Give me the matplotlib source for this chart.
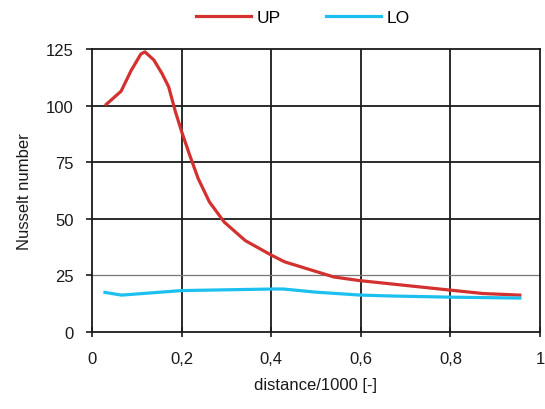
import numpy as np
import matplotlib.pyplot as plt
from matplotlib.ticker import FuncFormatter

plt.rcParams['font.family'] = ['Liberation Sans', 'DejaVu Sans']

# Nusselt number along the channel, upper and lower wall
x_up = [0.032, 0.065, 0.087, 0.109, 0.118, 0.138, 0.156, 0.171, 0.186,
        0.20, 0.218, 0.237, 0.262, 0.295, 0.342, 0.40, 0.43, 0.54, 0.598,
        0.80, 0.873, 0.955]
nu_up = [100.6, 106.4, 115.4, 122.8, 123.8, 120.2, 114.3, 108.4, 97.5,
         88.6, 78.2, 67.8, 57.5, 48.6, 40.4, 34, 31, 24.3, 22.7,
         18.5, 17, 16.3]

x_lo = [0.029, 0.066, 0.2, 0.405, 0.427, 0.50, 0.60, 0.67, 0.80, 0.955]
nu_lo = [17.5, 16.3, 18.3, 19, 19, 17.6, 16.3, 15.9, 15.4, 15]

xticks = [0, 0.2, 0.4, 0.6, 0.8, 1]
yticks = [0, 25, 50, 75, 100, 125]

fig = plt.figure(figsize=(5.45, 4.10), dpi=100)
ax = fig.add_axes([0.1688, 0.1878, 0.822, 0.690])

ax.plot(x_up, nu_up, color='#d2312f', lw=2.3, label='UP', zorder=3)
ax.plot(x_lo, nu_lo, color='#1cc0ee', lw=2.3, label='LO', zorder=3)

ax.set_xlim(0, 1)
ax.set_ylim(0, 125)
ax.set_xticks(xticks)
ax.set_yticks(yticks)
ax.xaxis.set_major_formatter(FuncFormatter(
    lambda v, p: ('%g' % v).replace('.', ',')))

# grid: black except the thin grey line at 25
for xv in xticks[1:-1]:
    ax.axvline(xv, color='#1a1a1a', lw=1.3, zorder=1)
for yv in yticks[1:-1]:
    if yv == 25:
        ax.axhline(yv, color='#777777', lw=0.9, zorder=1)
    else:
        ax.axhline(yv, color='#1a1a1a', lw=1.3, zorder=1)

for s in ax.spines.values():
    s.set_color('#1a1a1a')
    s.set_linewidth(1.3)

ax.tick_params(axis='x', direction='inout', length=7, width=1.2,
               pad=10, labelsize=12, colors='#1a1a1a')
ax.tick_params(axis='y', direction='out', length=4, width=1.2,
               pad=9, labelsize=12, colors='#1a1a1a')

ax.set_xlabel('distance/1000 [-]', fontsize=12, labelpad=8, color='#1a1a1a')
ax.set_ylabel('Nusselt number', fontsize=12, labelpad=10, color='#1a1a1a')

fig.legend(loc='center', bbox_to_anchor=(0.555, 0.955), ncol=2,
           frameon=False, fontsize=12.5, handlelength=3.2,
           handletextpad=0.3, columnspacing=2.6)

fig.savefig('out.png', dpi=100)
